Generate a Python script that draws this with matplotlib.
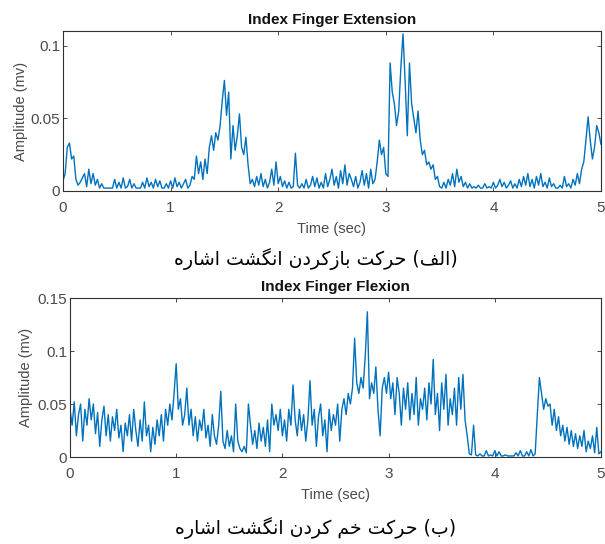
import numpy as np
import matplotlib
matplotlib.use("Agg")
import matplotlib.pyplot as plt

# ---------------- data ----------------
dt = 0.02
ext_values = [
    0.007, 0.012, 0.030, 0.033, 0.022, 0.024, 0.008, 0.004, 0.006, 0.009,
    0.012, 0.003, 0.015, 0.005, 0.012, 0.004, 0.008, 0.002, 0.005, 0.002,
    0.002, 0.002, 0.002, 0.002, 0.008, 0.002, 0.006, 0.002, 0.009, 0.002,
    0.003, 0.008, 0.002, 0.005, 0.002, 0.002, 0.002, 0.006, 0.002, 0.009,
    0.003, 0.006, 0.002, 0.008, 0.003, 0.007, 0.002, 0.002, 0.005, 0.002,
    0.007, 0.002, 0.009, 0.003, 0.006, 0.002, 0.005, 0.008, 0.002, 0.004,
    0.010, 0.008, 0.024, 0.012, 0.020, 0.008, 0.022, 0.012, 0.030, 0.038,
    0.028, 0.040, 0.035, 0.045, 0.062, 0.076, 0.052, 0.068, 0.022, 0.045,
    0.028, 0.038, 0.053, 0.030, 0.025, 0.037, 0.018, 0.005, 0.008, 0.003,
    0.010, 0.004, 0.012, 0.003, 0.008, 0.002, 0.006, 0.015, 0.004, 0.020,
    0.005, 0.010, 0.003, 0.007, 0.002, 0.006, 0.002, 0.003, 0.026, 0.004,
    0.002, 0.005, 0.002, 0.008, 0.002, 0.004, 0.010, 0.003, 0.009, 0.002,
    0.006, 0.002, 0.012, 0.003, 0.008, 0.015, 0.004, 0.010, 0.002, 0.014,
    0.005, 0.018, 0.004, 0.012, 0.008, 0.003, 0.010, 0.002, 0.006, 0.014,
    0.004, 0.012, 0.002, 0.015, 0.005, 0.008, 0.020, 0.035, 0.025, 0.030,
    0.012, 0.010, 0.088, 0.068, 0.060, 0.045, 0.055, 0.085, 0.108, 0.075,
    0.038, 0.088, 0.060, 0.050, 0.040, 0.055, 0.035, 0.025, 0.028, 0.018,
    0.020, 0.015, 0.018, 0.008, 0.010, 0.003, 0.002, 0.006, 0.002, 0.008,
    0.004, 0.012, 0.003, 0.015, 0.006, 0.010, 0.003, 0.006, 0.002, 0.005,
    0.002, 0.003, 0.002, 0.004, 0.002, 0.002, 0.005, 0.002, 0.003, 0.002,
    0.006, 0.002, 0.004, 0.008, 0.003, 0.006, 0.002, 0.004, 0.007, 0.002,
    0.005, 0.002, 0.008, 0.003, 0.010, 0.004, 0.012, 0.003, 0.008, 0.002,
    0.010, 0.004, 0.012, 0.003, 0.006, 0.002, 0.009, 0.003, 0.005, 0.002,
    0.002, 0.004, 0.002, 0.010, 0.003, 0.005, 0.002, 0.008, 0.004, 0.012,
    0.005, 0.015, 0.020, 0.035, 0.051, 0.035, 0.022, 0.030, 0.045, 0.040,
    0.032,
]
flex_values = [
    0.045, 0.030, 0.052, 0.020, 0.040, 0.050, 0.015, 0.045, 0.030, 0.055,
    0.035, 0.050, 0.022, 0.042, 0.010, 0.035, 0.048, 0.020, 0.040, 0.015,
    0.038, 0.025, 0.045, 0.018, 0.030, 0.005, 0.032, 0.020, 0.040, 0.015,
    0.045, 0.025, 0.010, 0.035, 0.015, 0.052, 0.020, 0.030, 0.005, 0.028,
    0.012, 0.035, 0.020, 0.040, 0.015, 0.045, 0.030, 0.050, 0.035, 0.060,
    0.088, 0.045, 0.055, 0.030, 0.040, 0.065, 0.030, 0.045, 0.020, 0.038,
    0.015, 0.035, 0.025, 0.045, 0.018, 0.030, 0.010, 0.040, 0.020, 0.012,
    0.030, 0.062, 0.015, 0.008, 0.025, 0.010, 0.020, 0.005, 0.050, 0.015,
    0.008, 0.005, 0.010, 0.004, 0.050, 0.030, 0.012, 0.025, 0.008, 0.032,
    0.015, 0.028, 0.010, 0.035, 0.005, 0.050, 0.030, 0.040, 0.025, 0.045,
    0.020, 0.035, 0.015, 0.045, 0.030, 0.068, 0.035, 0.020, 0.045, 0.025,
    0.040, 0.015, 0.035, 0.072, 0.030, 0.045, 0.010, 0.038, 0.050, 0.020,
    0.035, 0.005, 0.045, 0.025, 0.040, 0.030, 0.050, 0.015, 0.045, 0.055,
    0.040, 0.060, 0.050, 0.065, 0.112, 0.070, 0.060, 0.075, 0.065, 0.095,
    0.137, 0.055, 0.070, 0.060, 0.085, 0.045, 0.020, 0.065, 0.075, 0.060,
    0.080, 0.055, 0.070, 0.040, 0.075, 0.060, 0.030, 0.065, 0.045, 0.070,
    0.035, 0.060, 0.040, 0.075, 0.030, 0.055, 0.045, 0.065, 0.035, 0.070,
    0.050, 0.092, 0.040, 0.060, 0.025, 0.070, 0.045, 0.078, 0.030, 0.055,
    0.040, 0.065, 0.030, 0.075, 0.045, 0.078, 0.035, 0.020, 0.003, 0.002,
    0.030, 0.002, 0.001, 0.003, 0.001, 0.001, 0.006, 0.001, 0.002, 0.001,
    0.006, 0.001, 0.005, 0.001, 0.001, 0.002, 0.001, 0.001, 0.001, 0.001,
    0.004, 0.001, 0.006, 0.001, 0.001, 0.005, 0.001, 0.007, 0.001, 0.003,
    0.040, 0.075, 0.060, 0.045, 0.055, 0.048, 0.050, 0.030, 0.045, 0.025,
    0.038, 0.020, 0.030, 0.015, 0.028, 0.012, 0.025, 0.010, 0.022, 0.008,
    0.020, 0.010, 0.025, 0.005, 0.015, 0.008, 0.020, 0.004, 0.028, 0.003,
    0.005,
]
x_ticks = [0, 1, 2, 3, 4, 5]
ext_yticks = [0, 0.05, 0.1]
flex_yticks = [0, 0.05, 0.1, 0.15]
ext_title = "Index Finger Extension"
flex_title = "Index Finger Flexion"
x_label = "Time (sec)"
y_label = "Amplitude (mv)"
caption_a = "(الف) حرکت بازکردن انگشت اشاره"
caption_b = "(ب) حرکت خم کردن انگشت اشاره"

# ------------- Persian shaping (matplotlib has no complex text layout) -------------
FORMS = {
    'ا': ('\uFE8D', '\uFE8E', None, None),
    'ب': ('\uFE8F', '\uFE90', '\uFE91', '\uFE92'),
    'ت': ('\uFE95', '\uFE96', '\uFE97', '\uFE98'),
    'ح': ('\uFEA1', '\uFEA2', '\uFEA3', '\uFEA4'),
    'خ': ('\uFEA5', '\uFEA6', '\uFEA7', '\uFEA8'),
    'د': ('\uFEA9', '\uFEAA', None, None),
    'ر': ('\uFEAD', '\uFEAE', None, None),
    'ز': ('\uFEAF', '\uFEB0', None, None),
    'ش': ('\uFEB5', '\uFEB6', '\uFEB7', '\uFEB8'),
    'ف': ('\uFED1', '\uFED2', '\uFED3', '\uFED4'),
    'ل': ('\uFEDD', '\uFEDE', '\uFEDF', '\uFEE0'),
    'م': ('\uFEE1', '\uFEE2', '\uFEE3', '\uFEE4'),
    'ن': ('\uFEE5', '\uFEE6', '\uFEE7', '\uFEE8'),
    'ه': ('\uFEE9', '\uFEEA', '\uFEEB', '\uFEEC'),
    'ک': ('\uFB8E', '\uFB8F', '\uFB90', '\uFB91'),
    'گ': ('\uFB92', '\uFB93', '\uFB94', '\uFB95'),
}


def shape_rtl(s):
    out = []
    n = len(s)
    for i, c in enumerate(s):
        if c not in FORMS:
            out.append(c)
            continue
        prev = s[i - 1] if i > 0 else None
        nxt = s[i + 1] if i < n - 1 else None
        join_prev = prev in FORMS and FORMS[prev][2] is not None
        join_next = FORMS[c][2] is not None and nxt in FORMS
        f = FORMS[c]
        if join_prev and join_next:
            out.append(f[3])
        elif join_prev:
            out.append(f[1])
        elif join_next:
            out.append(f[2])
        else:
            out.append(f[0])
    vis = ''.join(reversed(out))
    return vis.translate(str.maketrans({'(': ')', ')': '('}))


# ---------------- figure ----------------
plt.rcParams['font.family'] = ['Liberation Sans', 'DejaVu Sans']
line_color = '#0072BD'
tick_color = '#4a4a4a'

fig = plt.figure(figsize=(6.05, 5.44), dpi=100)
ax1 = fig.add_axes([0.1041, 0.6489, 0.8893, 0.2941])
ax2 = fig.add_axes([0.1157, 0.1599, 0.8777, 0.2923])

t_ext = np.arange(len(ext_values)) * dt
t_flex = np.arange(len(flex_values)) * dt

for ax, t, v, yt, ylim, title, ylpad in [
    (ax1, t_ext, ext_values, ext_yticks, 0.11, ext_title, 2),
    (ax2, t_flex, flex_values, flex_yticks, 0.15, flex_title, 3),
]:
    ax.plot(t, v, color=line_color, lw=1.0)
    ax.set_xlim(0, 5)
    ax.set_ylim(0, ylim)
    ax.set_xticks(x_ticks)
    ax.set_xticklabels([str(x) for x in x_ticks])
    ax.set_yticks(yt)
    ax.set_yticklabels(['0' if y == 0 else ('%g' % y) for y in yt])
    ax.tick_params(direction='in', length=3, width=0.7, top=True, right=True,
                   colors=tick_color, labelsize=11)
    ax.tick_params(axis='x', pad=7)
    ax.tick_params(axis='y', pad=2)
    for sp in ax.spines.values():
        sp.set_color('#303030')
        sp.set_linewidth(0.8)
    ax.set_xlabel(x_label, fontsize=10.5, color=tick_color, labelpad=5)
    ax.set_ylabel(y_label, fontsize=10.5, color=tick_color, labelpad=ylpad)
    ax.set_title(title, fontsize=11, fontweight='bold', color='#111111', pad=5)

fig.text(0.522, 1 - 259 / 544, shape_rtl(caption_a), ha='center', va='center',
         fontsize=13.6, family='DejaVu Sans', color='black')
fig.text(0.522, 1 - 528 / 544, shape_rtl(caption_b), ha='center', va='center',
         fontsize=13.6, family='DejaVu Sans', color='black')

fig.savefig('out.png', dpi=100)
